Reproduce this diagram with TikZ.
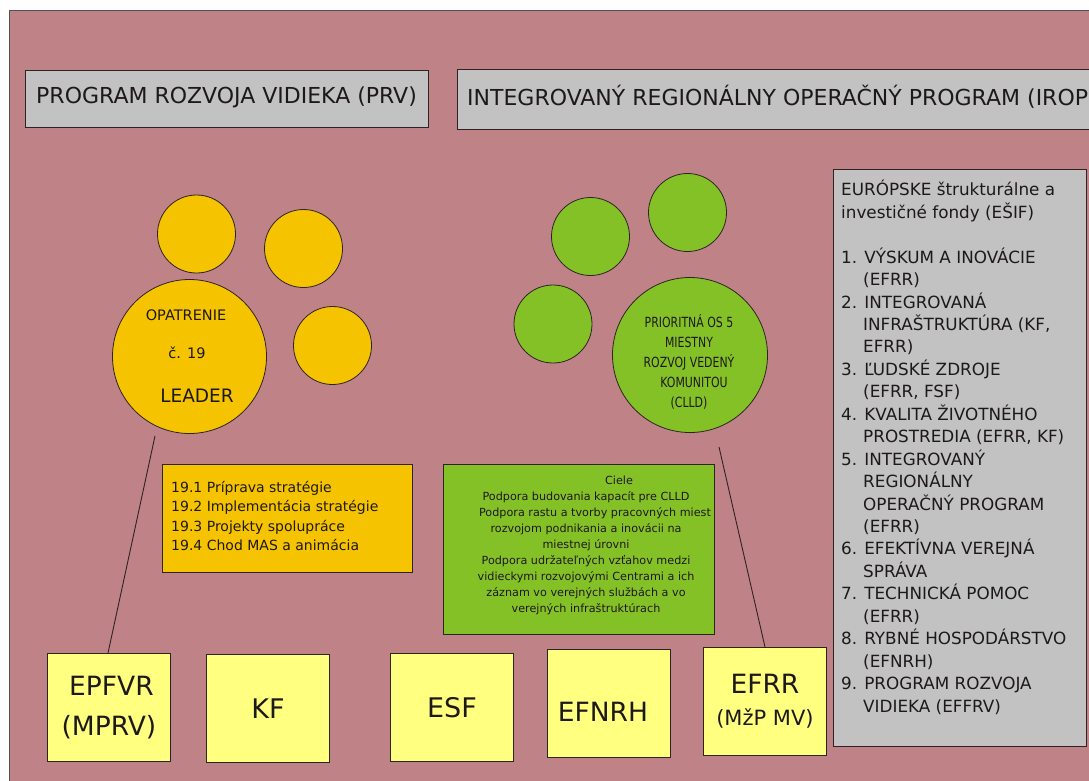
\documentclass[tikz,border=0pt]{standalone}
\usepackage{fontspec}
\setmainfont{DejaVu Sans}
\usetikzlibrary{shadows}
\definecolor{bgpink}{RGB}{191,130,135}
\definecolor{ocher}{RGB}{246,195,0}
\definecolor{lgreen}{RGB}{132,193,39}
\definecolor{lgray}{RGB}{194,194,194}
\definecolor{lyellow}{RGB}{255,255,128}
\definecolor{edgec}{RGB}{45,35,35}
\definecolor{txt}{RGB}{30,25,25}
\newcommand{\cond}[1]{\scalebox{0.78}[1]{#1}}
\tikzset{
  graybox/.style={draw=edgec, line width=0.9pt, fill=lgray, inner sep=0pt, anchor=north west,
    drop shadow={shadow xshift=1pt, shadow yshift=-1pt, fill=black!75, opacity=1}},
  ycirc/.style={circle, draw=edgec, line width=0.8pt, fill=ocher, inner sep=0pt},
  gcirc/.style={circle, draw=edgec, line width=0.8pt, fill=lgreen, inner sep=0pt},
  fundbox/.style={draw=edgec, line width=0.9pt, fill=lyellow, inner sep=0pt, anchor=north west,
    minimum width=123pt, minimum height=108pt, align=center, text=txt,
    drop shadow={shadow xshift=0.8pt, shadow yshift=-0.8pt, fill=black!60, opacity=1}},
  conn/.style={draw=edgec, line width=0.9pt},
  lbl/.style={inner sep=0pt, text=txt},
}
\begin{document}
\begin{tikzpicture}[x=1pt,y=-1pt]
\useasboundingbox (0,0) rectangle (1089,780);
\fill[white] (0,0) rectangle (1089,780);
\draw[fill=bgpink, draw=edgec!80, line width=0.9pt] (9,10) rectangle (1100,790);

% title boxes
\node[graybox, minimum width=403pt, minimum height=57pt] (prv) at (25,70) {};
\node[lbl, anchor=west, font=\fontsize{22}{25}\selectfont] (prvt) at (36,97) {PROGRAM ROZVOJA VIDIEKA (PRV)};
\node[graybox, minimum width=660pt, minimum height=60pt] (irop) at (457,69) {};
\node[lbl, anchor=west, font=\fontsize{22}{25}\selectfont] (iropt) at (467,97) {INTEGROVANÝ REGIONÁLNY OPERAČNÝ PROGRAM (IROP)};

% yellow circles
\node[ycirc, minimum size=78pt] (y1) at (196.5,234) {};
\node[ycirc, minimum size=78pt] (y2) at (303.5,248.5) {};
\node[ycirc, minimum size=78pt] (y3) at (332.5,345.5) {};
\node[ycirc, minimum size=154pt] (ybig) at (189.5,356.5) {};
\node[lbl, font=\fontsize{14.5}{16}\selectfont] (opt) at (186,315) {OPATRENIE};
\node[lbl, font=\fontsize{14.5}{16}\selectfont] (c19) at (187,353) {č. 19};
\node[lbl, font=\fontsize{18.5}{22}\selectfont] (leader) at (197,396) {LEADER};

% green circles
\node[gcirc, minimum size=78pt] (g1) at (590.5,236.5) {};
\node[gcirc, minimum size=78pt] (g2) at (687.5,212.5) {};
\node[gcirc, minimum size=78pt] (g3) at (553,324) {};
\node[gcirc, minimum size=155pt] (gbig) at (690,355) {};
\node[lbl, align=center, font=\fontsize{14}{20}\selectfont] (clld) at (689,362)
  {\cond{PRIORITNÁ OS 5}\\\cond{MIESTNY}\\\cond{ROZVOJ VEDENÝ}\\\hspace*{10pt}\cond{KOMUNITOU}\\\cond{(CLLD)}};

% measure box
\node[draw=edgec, line width=0.9pt, fill=ocher, anchor=north west, minimum width=250pt, minimum height=108pt, inner sep=0pt] (mbox) at (162,464) {};
\node[lbl, anchor=north west, align=left, font=\fontsize{14}{19.5}\selectfont] (mtxt) at (171,481)
  {19.1 Príprava stratégie\\19.2 Implementácia stratégie\\19.3 Projekty spolupráce\\19.4 Chod MAS a animácia};

% goals box
\node[draw=edgec, line width=0.9pt, fill=lgreen, anchor=north west, minimum width=271pt, minimum height=170pt, inner sep=0pt] (cbox) at (443,464) {};
\node[lbl, anchor=north, align=center, font=\fontsize{11.2}{16}\selectfont] (ctxt) at (586,476)
  {\hspace*{66pt}Ciele\\Podpora budovania kapacít pre CLLD\\\hspace*{18pt}Podpora rastu a tvorby pracovných miest\\rozvojom podnikania a inovácii na\\miestnej úrovni\\Podpora udržateľných vzťahov medzi\\vidieckymi rozvojovými Centrami a ich\\záznam vo verejných službách a vo\\verejných infraštruktúrach};

% ESIF box
\node[graybox, minimum width=253pt, minimum height=577pt] (esif) at (833,169) {};
\node[lbl, anchor=north west, align=left, font=\fontsize{16.8}{22.45}\selectfont] (esift) at (841,180)
  {EURÓPSKE štrukturálne a\\investičné fondy (EŠIF)\\[22.45pt]
   1. VÝSKUM A INOVÁCIE\\\hspace*{22pt}(EFRR)\\
   2. INTEGROVANÁ\\\hspace*{22pt}INFRAŠTRUKTÚRA (KF,\\\hspace*{22pt}EFRR)\\
   3. ĽUDSKÉ ZDROJE\\\hspace*{22pt}(EFRR, FSF)\\
   4. KVALITA ŽIVOTNÉHO\\\hspace*{22pt}PROSTREDIA (EFRR, KF)\\
   5. INTEGROVANÝ\\\hspace*{22pt}REGIONÁLNY\\\hspace*{22pt}OPERAČNÝ PROGRAM\\\hspace*{22pt}(EFRR)\\
   6. EFEKTÍVNA VEREJNÁ\\\hspace*{22pt}SPRÁVA\\
   7. TECHNICKÁ POMOC\\\hspace*{22pt}(EFRR)\\
   8. RYBNÉ HOSPODÁRSTVO\\\hspace*{22pt}(EFNRH)\\
   9. PROGRAM ROZVOJA\\\hspace*{22pt}VIDIEKA (EFFRV)};

% fund boxes
\node[fundbox, font=\fontsize{26.5}{40}\selectfont] (epfvr) at (47,653) {\hspace*{5pt}EPFVR\\(MPRV)};
\node[fundbox, font=\fontsize{27}{32}\selectfont] (kf) at (206,654) {KF};
\node[fundbox, font=\fontsize{27}{32}\selectfont] (esf) at (390,653) {ESF};
\node[fundbox] (efnrh) at (547,649) {};
\node[lbl, font=\fontsize{26.5}{32}\selectfont] (efnrht) at (603,712) {EFNRH};
\node[fundbox, font=\fontsize{26.5}{32}\selectfont] (efrr) at (703,647) {EFRR\\{\fontsize{21}{24}\selectfont(MžP MV)}};

% connectors
\coordinate (ly) at (155,436);
\coordinate (lg) at (719,447);
\draw[conn] (ly) -- (epfvr.north -| 108,0);
\draw[conn] (lg) -- (efrr.north -| 765,0);
\end{tikzpicture}
\end{document}
